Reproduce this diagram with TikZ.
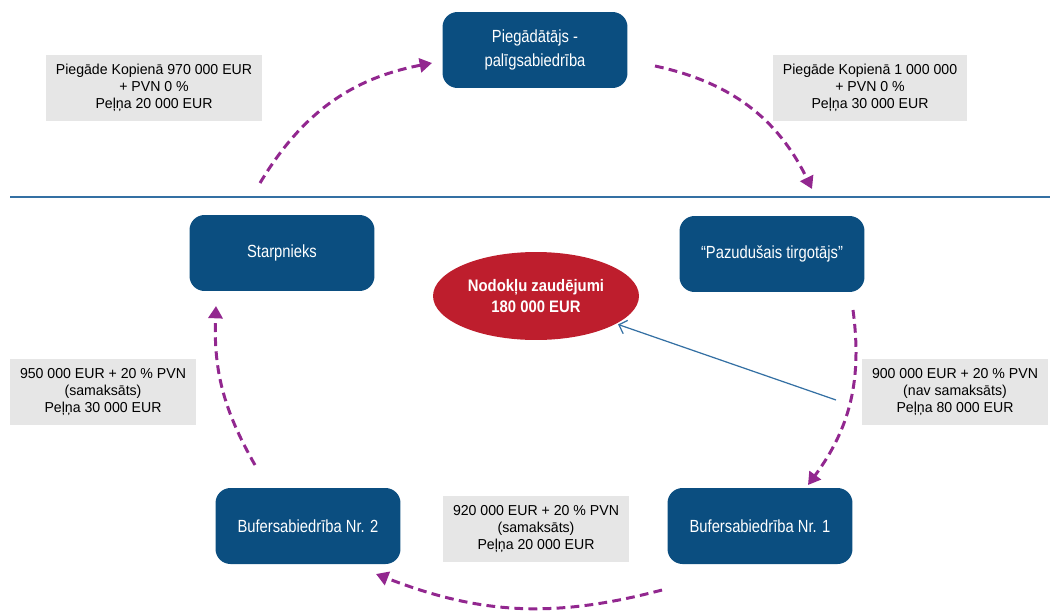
\documentclass[tikz,border=0pt]{standalone}
\usepackage{fontspec}
\setmainfont{Liberation Sans}[FakeStretch=0.98]
\newfontfamily\partyfont{Liberation Sans}[FakeStretch=0.84]
\newfontfamily\lossfont{Liberation Sans}[FakeStretch=0.89]
\usepackage{tikz}
\usetikzlibrary{arrows.meta}
\usetikzlibrary{shapes.geometric}
\usetikzlibrary{positioning}

\definecolor{boxblue}{RGB}{11,78,128}
\definecolor{lossred}{RGB}{190,30,45}
\definecolor{flowviolet}{RGB}{146,39,143}
\definecolor{labelgray}{RGB}{230,230,230}
\definecolor{lineblue}{RGB}{52,112,163}

\begin{document}
\begin{tikzpicture}[
  x=0.02cm, y=-0.02cm,
  party/.style = {fill=boxblue, rounded corners=0.3cm, minimum width=3.7cm, minimum height=1.52cm,
    text=white, align=center, font=\partyfont\fontsize{10}{14}\selectfont},
  loss/.style = {ellipse, fill=lossred, minimum width=4.12cm, minimum height=1.76cm, inner sep=0pt,
    text=white, align=center, font=\lossfont\bfseries\fontsize{9.5}{12}\selectfont},
  amount/.style = {fill=labelgray, minimum height=1.32cm, inner xsep=0.2cm,
    align=center, font=\fontsize{8.2}{9.6}\selectfont},
  flow/.style = {flowviolet, line width=1.7pt, dash pattern=on 5pt off 3pt,
    -{Triangle[length=7pt,width=8pt]}},
  leak/.style = {lineblue, line width=0.7pt, -{Straight Barb[length=4pt,width=8pt]}, shorten >=1pt}
  ]
	\useasboundingbox (0,0) rectangle (1050,612);

	% dividing line
	\draw[lineblue, line width=0.9pt] (10,197) -- (1050,197);

	\node[party] (supplier) at (535,50) {Piegādātājs -\\palīgsabiedrība};
	\node[party] (trader) at (772,254) {“Pazudušais tirgotājs”};
	\node[party] (broker) at (282,253) {Starpnieks};
	\node[party] (buffer2) at (308,526) {Bufersabiedrība Nr. 2};
	\node[party] (buffer1) at (760,526) {Bufersabiedrība Nr. 1};
	\node[loss] (taxloss) at (536,296) {Nodokļu zaudējumi\\180 000 EUR};

	\node[amount] (amount1) at (154,88) {Piegāde Kopienā 970 000 EUR\\+ PVN 0 \%\\Peļņa 20 000 EUR};
	\node[amount] (amount2) at (870,88) {Piegāde Kopienā 1 000 000\\+ PVN 0 \%\\Peļņa 30 000 EUR};
	\node[amount] (amount3) at (955,392) {900 000 EUR + 20 \% PVN\\(nav samaksāts)\\Peļņa 80 000 EUR};
	\node[amount] (amount4) at (536,529) {920 000 EUR + 20 \% PVN\\(samaksāts)\\Peļņa 20 000 EUR};
	\node[amount] (amount5) at (103,392) {950 000 EUR + 20 \% PVN\\(samaksāts)\\Peļņa 30 000 EUR};

	\coordinate (out1) at (260,183);
	\coordinate (in1) at (432,63);
	\coordinate (out2) at (655,66);
	\coordinate (in2) at (812,189);
	\coordinate (out3) at (853,310);
	\coordinate (in3) at (808,485);
	\coordinate (out4) at (662,590);
	\coordinate (in4) at (376,574);
	\coordinate (out5) at (255,465);
	\coordinate (in5) at (216,306);
	\coordinate (lossfrom) at (836,400);

	\draw[flow] (out1) to[bend left=24] (in1);
	\draw[flow] (out2) to[bend left=26] (in2);
	\draw[flow] (out3) to[bend left=22] (in3);
	\draw[flow] (out4) to[bend left=18] (in4);
	\draw[flow] (out5) to[bend left=16] (in5);

	\draw[leak] (lossfrom) -- (taxloss);

\end{tikzpicture}
\end{document}
